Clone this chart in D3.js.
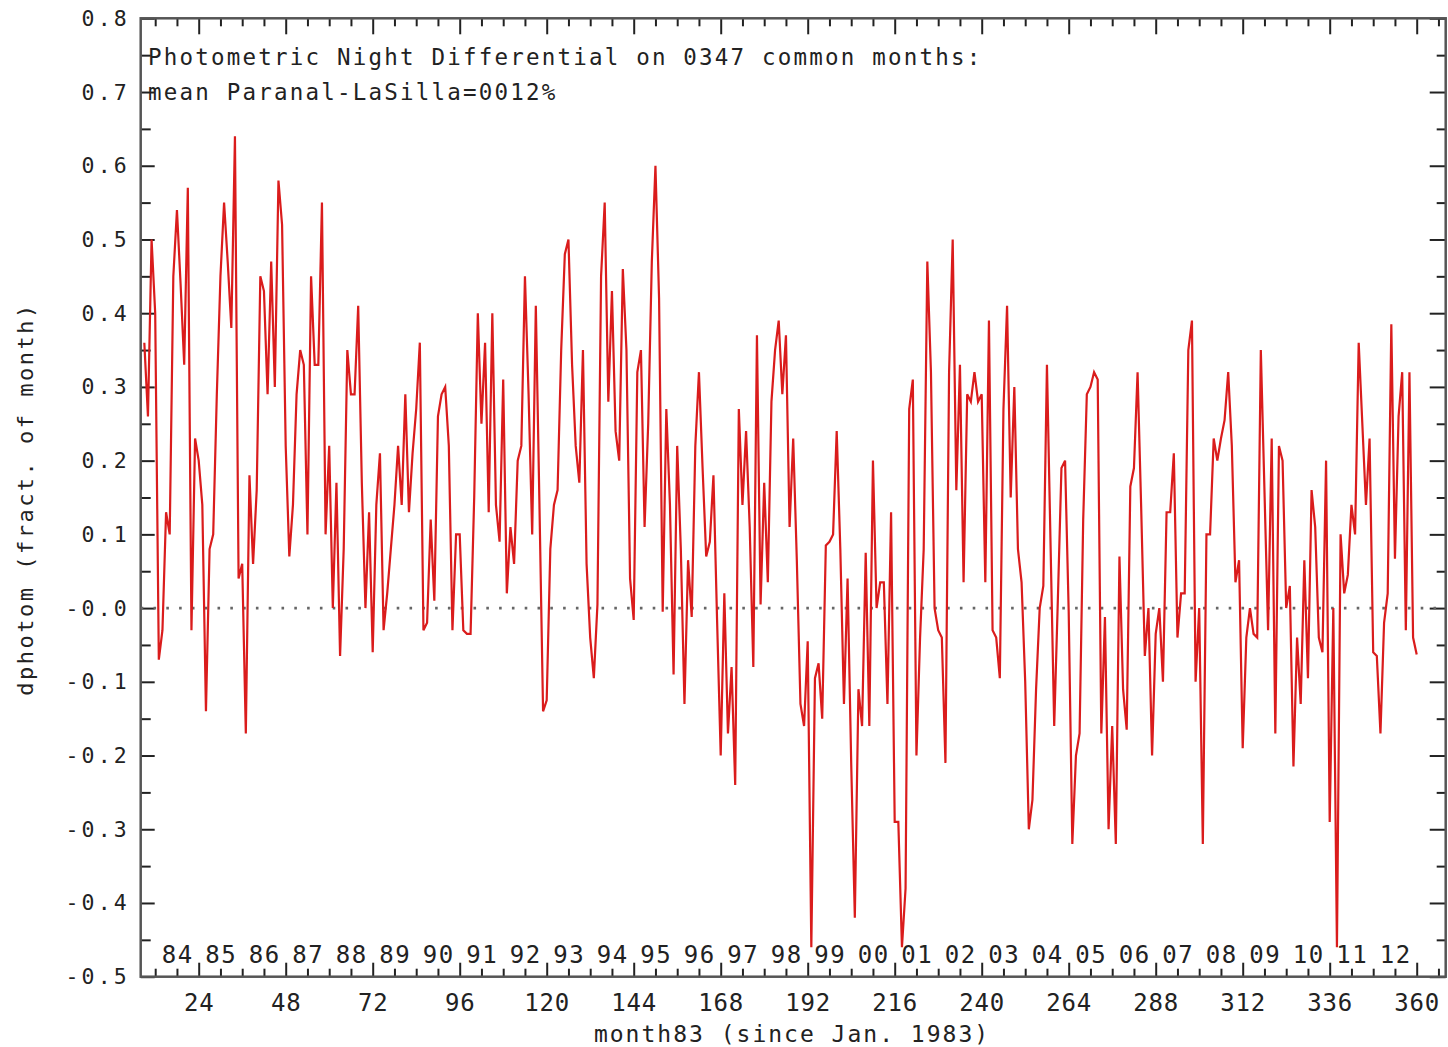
<!DOCTYPE html>
<meta charset="utf-8">
<script src="https://d3js.org/d3.v7.min.js"></script>
<body style="margin:0;background:#fff">
<svg width="1448" height="1047"></svg>
<script>
  // monthly photometric differential, month83 = 9 .. 360
  var firstMonth = 9;
  var dphotom = [
    0.36, 0.26, 0.50, 0.40, -0.07, -0.03, 0.13, 0.10, 0.45, 0.54,
    0.44, 0.33, 0.57, -0.03, 0.23, 0.20, 0.14, -0.14, 0.08, 0.10,
    0.29, 0.45, 0.55, 0.47, 0.38, 0.64, 0.04, 0.06, -0.17, 0.18,
    0.06, 0.16, 0.45, 0.43, 0.29, 0.47, 0.30, 0.58, 0.52, 0.22,
    0.07, 0.14, 0.29, 0.35, 0.33, 0.10, 0.45, 0.33, 0.33, 0.55,
    0.10, 0.22, 0.00, 0.17, -0.065, 0.08, 0.35, 0.29, 0.29, 0.41,
    0.17, 0.00, 0.13, -0.06, 0.14, 0.21, -0.03, 0.02, 0.08, 0.14,
    0.22, 0.14, 0.29, 0.13, 0.21, 0.27, 0.36, -0.03, -0.02, 0.12,
    0.01, 0.26, 0.29, 0.30, 0.22, -0.03, 0.10, 0.10, -0.03, -0.035,
    -0.035,
    // 100 ..
    0.15, 0.40, 0.25, 0.36, 0.13, 0.40, 0.14, 0.09, 0.31, 0.02,
    0.11, 0.06, 0.20, 0.22, 0.45, 0.29, 0.10, 0.41, 0.14, -0.14,
    -0.125, 0.08, 0.14, 0.16, 0.35, 0.48, 0.50, 0.33, 0.22, 0.17,
    0.35, 0.06, -0.04, -0.095, 0.005, 0.45, 0.55, 0.28, 0.43, 0.24,
    0.20, 0.46, 0.35, 0.04, -0.016, 0.32, 0.35, 0.11, 0.25, 0.47,
    0.60, 0.42, -0.005, 0.27, 0.14, -0.09, 0.22, 0.08, -0.13, 0.065,
    -0.012, 0.22, 0.32, 0.19, 0.07, 0.09, 0.18, -0.016, -0.20, 0.02,
    -0.17, -0.08, -0.24, 0.27, 0.14, 0.24, 0.11, -0.08, 0.37, 0.005,
    0.17, 0.035, 0.28, 0.35, 0.39, 0.29, 0.37, 0.11, 0.23,
    // 189 ..
    0.065, -0.13, -0.16, -0.045, -0.46, -0.095, -0.075, -0.15, 0.085, 0.09,
    0.10, 0.24, 0.08, -0.13, 0.04, -0.21, -0.42, -0.11, -0.16, 0.075,
    -0.16, 0.20, 0.00, 0.035, 0.035, -0.13, 0.13, -0.29, -0.29, -0.46,
    -0.38, 0.27, 0.31, -0.20, -0.04, 0.08, 0.47, 0.32, 0.00, -0.03,
    -0.04, -0.21, 0.32, 0.50, 0.16, 0.33, 0.035, 0.29, 0.28, 0.32,
    0.28, 0.29, 0.035, 0.39, -0.03, -0.04, -0.095, 0.27, 0.41, 0.15,
    0.30, 0.08, 0.035, -0.10, -0.30, -0.26, -0.11, 0.00, 0.03, 0.33,
    0.085, -0.16, 0.01, 0.19, 0.20, -0.005, -0.32, -0.20, -0.17, 0.12,
    0.29, 0.30, 0.32, 0.31, -0.17, -0.012, -0.30, -0.16, -0.32,
    // 278 ..
    0.07, -0.11, -0.165, 0.165, 0.19, 0.32, 0.135, -0.065, 0.00, -0.20,
    -0.035, 0.00, -0.10, 0.13, 0.13, 0.21, -0.04, 0.02, 0.02, 0.35,
    0.39, -0.10, 0.00, -0.32, 0.10, 0.10, 0.23, 0.20, 0.23, 0.255,
    0.32, 0.22, 0.035, 0.065, -0.19, -0.04, 0.00, -0.035, -0.04, 0.35,
    0.16, -0.03, 0.23, -0.17, 0.22, 0.20, 0.00, 0.03, -0.215, -0.04,
    -0.13, 0.065, -0.095, 0.16, 0.11, -0.04, -0.06, 0.20, -0.29, 0.00,
    -0.46, 0.10, 0.02, 0.045, 0.14, 0.10, 0.36, 0.25, 0.14, 0.23,
    -0.06, -0.065, -0.17, -0.02, 0.02, 0.385, 0.067, 0.26, 0.32, -0.03,
    0.32, -0.04, -0.063
  ];

  var yTicks = [0.8, 0.7, 0.6, 0.5, 0.4, 0.3, 0.2, 0.1, 0, -0.1, -0.2, -0.3, -0.4, -0.5];
  var xTicks = [24, 48, 72, 96, 120, 144, 168, 192, 216, 240, 264, 288, 312, 336, 360];
  var yearLabels = ['84','85','86','87','88','89','90','91','92','93','94','95','96','97','98','99',
                    '00','01','02','03','04','05','06','07','08','09','10','11','12'];
  var title1 = 'Photometric Night Differential on 0347 common months:';
  var title2 = 'mean Paranal-LaSilla=0012%';
  var xTitle = 'month83 (since Jan. 1983)';
  var yTitle = 'dphotom (fract. of month)';

  var L = 140.7, R = 1445.7, T = 18.3, B = 976.7;
  var font = '"DejaVu Sans Mono", monospace';
  var ink = '#222';

  var svg = d3.select('svg');
  var x = d3.scaleLinear().domain([8, 368]).range([L, R]);
  var y = d3.scaleLinear().domain([-0.5, 0.8]).range([B, T]);

  var data = dphotom.map(function(v, i){ return {m: firstMonth + i, v: v}; });

  /* ----------- ticks ----------- */

  var minorX = d3.range(12, 368, 6).filter(function(d){ return d % 24 != 0; });
  var majorX = d3.range(24, 368, 24);
  var minorY = d3.range(-9, 16, 2).map(function(d){ return d * 0.05; });

  function tickAxis(axis, vals, size, tr){
    var g = svg.append('g').attr('transform', tr)
      .call(axis.tickValues(vals).tickSize(size).tickFormat(''));
    g.select('.domain').remove();
    g.selectAll('line').attr('stroke', ink).attr('stroke-width', 2);
  }
  tickAxis(d3.axisBottom(x), minorX, -8, 'translate(0,' + B + ')');
  tickAxis(d3.axisBottom(x), majorX, -14, 'translate(0,' + B + ')');
  tickAxis(d3.axisTop(x), minorX, -8, 'translate(0,' + T + ')');
  tickAxis(d3.axisTop(x), majorX, -16, 'translate(0,' + T + ')');
  tickAxis(d3.axisLeft(y), minorY, -10, 'translate(' + L + ',0)');
  tickAxis(d3.axisLeft(y), yTicks, -14, 'translate(' + L + ',0)');
  tickAxis(d3.axisRight(y), minorY, -9, 'translate(' + R + ',0)');
  tickAxis(d3.axisRight(y), yTicks, -16, 'translate(' + R + ',0)');

  /* ----------- frame ----------- */

  svg.append('rect')
    .attr('x', L).attr('y', T).attr('width', R - L).attr('height', B - T)
    .attr('fill', 'none').attr('stroke', '#555').attr('stroke-width', 2.5);

  /* ----------- zero line ----------- */

  svg.append('line')
    .attr('x1', L).attr('x2', R).attr('y1', y(0)).attr('y2', y(0))
    .attr('stroke', '#666').attr('stroke-width', 2.6)
    .attr('stroke-dasharray', '2.6 10.2');

  /* ----------- data ----------- */

  var line = d3.line()
    .x(function(d){ return x(d.m); })
    .y(function(d){ return y(d.v); });

  svg.append('path')
    .datum(data)
    .attr('fill', 'none')
    .attr('stroke', '#da1c1c')
    .attr('stroke-width', 2.2)
    .attr('d', line);

  /* ----------- labels ----------- */

  svg.selectAll('text.yl').data(yTicks).join('text')
    .attr('class', 'yl')
    .attr('x', 130).attr('y', function(d){ return y(d) + 7.5; })
    .attr('text-anchor', 'end')
    .attr('font-family', font).attr('font-size', 21.5).attr('letter-spacing', 3.2)
    .attr('fill', ink)
    .text(function(d){ return d == 0 ? '-0.0' : (d < 0 ? '-' : '') + Math.abs(d).toFixed(1); });

  svg.selectAll('text.xl').data(xTicks).join('text')
    .attr('class', 'xl')
    .attr('x', function(d){ return x(d) + 0.5; }).attr('y', 1011)
    .attr('text-anchor', 'middle')
    .attr('font-family', font).attr('font-size', 24).attr('letter-spacing', 0.8)
    .attr('fill', ink)
    .text(function(d){ return d; });

  svg.selectAll('text.yr').data(yearLabels).join('text')
    .attr('class', 'yr')
    .attr('x', function(d, i){ return x(18 + 12 * i) + 0.7; }).attr('y', 963)
    .attr('text-anchor', 'middle')
    .attr('font-family', font).attr('font-size', 24).attr('letter-spacing', 1.4)
    .attr('fill', ink)
    .text(function(d){ return d; });

  svg.append('text')
    .attr('x', 148).attr('y', 65)
    .attr('font-family', font).attr('font-size', 22.5).attr('letter-spacing', 2.2)
    .attr('fill', ink).text(title1);

  svg.append('text')
    .attr('x', 148).attr('y', 100)
    .attr('font-family', font).attr('font-size', 22.5).attr('letter-spacing', 2.2)
    .attr('fill', ink).text(title2);

  svg.append('text')
    .attr('x', 792).attr('y', 1042)
    .attr('text-anchor', 'middle')
    .attr('font-family', font).attr('font-size', 23).attr('letter-spacing', 2)
    .attr('fill', ink).text(xTitle);

  svg.append('text')
    .attr('transform', 'translate(33,499) rotate(-90)')
    .attr('text-anchor', 'middle')
    .attr('font-family', font).attr('font-size', 22).attr('letter-spacing', 2.5)
    .attr('fill', ink).text(yTitle);
</script>
</body>
